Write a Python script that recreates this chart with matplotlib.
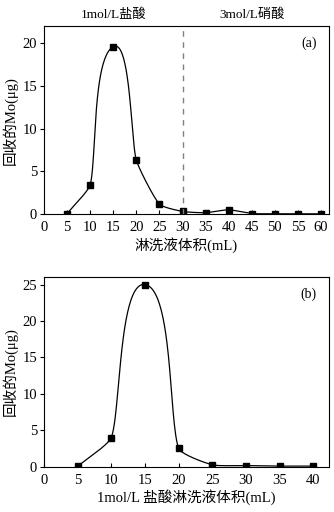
import matplotlib
matplotlib.use('Agg')
import matplotlib.pyplot as plt
import numpy as np

plt.rcParams['font.family'] = ['Liberation Serif', 'Noto Sans CJK SC']
plt.rcParams['font.size'] = 10
plt.rcParams['axes.unicode_minus'] = False

# (a) 盐酸 + 硝酸
xa = [5, 10, 15, 20, 25, 30, 35, 40, 45, 50, 55, 60]
ya = [0.05, 3.4, 19.6, 6.3, 1.15, 0.3, 0.15, 0.5, 0.05, 0.03, 0.02, 0.02]
xa_ticks = [0, 5, 10, 15, 20, 25, 30, 35, 40, 45, 50, 55, 60]

# (b) 盐酸
xb = [5, 10, 15, 20, 25, 30, 35, 40]
yb = [0.05, 4.0, 25.0, 2.5, 0.25, 0.15, 0.08, 0.08]
xb_ticks = [0, 5, 10, 15, 20, 25, 30, 35, 40]


def smooth(ax, x, y, k=0.17, n=50):
    # excel-like smoothed line, built in screen space
    P = ax.transData.transform(np.column_stack([x, y]))
    m = len(P)
    d = []
    for i in range(m):
        a = P[max(i - 1, 0)]
        b = P[min(i + 1, m - 1)]
        v = b - a
        d.append(v / np.hypot(*v))
    t = np.linspace(0, 1, n)[:, None]
    pts = []
    for i in range(m - 1):
        p0, p3 = P[i], P[i + 1]
        L = np.hypot(*(p3 - p0))
        p1 = p0 + d[i] * L * k
        p2 = p3 - d[i + 1] * L * k
        b = (1 - t) ** 3 * p0 + 3 * (1 - t) ** 2 * t * p1 + 3 * (1 - t) * t ** 2 * p2 + t ** 3 * p3
        pts.append(b)
    pts = np.vstack(pts)
    out = ax.transData.inverted().transform(pts)
    return out[:, 0], out[:, 1]


fig = plt.figure(figsize=(3.34, 5.12), dpi=100)
ax1 = fig.add_axes([0.1317, 0.582, 0.853, 0.367])
ax2 = fig.add_axes([0.1317, 0.0885, 0.853, 0.370])

for ax, x, y, ticks, xmax, ymax, tag in [
        (ax1, xa, ya, xa_ticks, 61.7, 22, '(a)'),
        (ax2, xb, yb, xb_ticks, 42.3, 26, '(b)')]:
    ax.set_xlim(0, xmax)
    ax.set_ylim(0, ymax)
    sx, sy = smooth(ax, x, y)
    ax.plot(sx, sy, color='black', lw=0.9)
    ax.plot(x, y, 's', color='black', ms=4.2)
    ax.set_xticks(ticks)
    ax.set_yticks(np.arange(0, ymax, 5))
    ax.tick_params(axis='both', labelsize=10.5)
    ax.tick_params(axis='x', direction='in', length=3, width=0.8, pad=5)
    ax.tick_params(axis='y', direction='out', length=3, width=0.8, pad=2)
    for s in ax.spines.values():
        s.set_linewidth(0.8)
    ax.set_ylabel('回收的Mo(μg)', fontsize=10.5, labelpad=3)
    ax.text(0.958, 0.947, tag, transform=ax.transAxes, ha='right', va='top', fontsize=10)

ax1.axvline(30, color='gray', ls=(0, (4, 4)), lw=1)
ax1.text(15, 22.6, '1mol/L盐酸', ha='center', va='bottom', fontsize=9.5)
ax1.text(45, 22.6, '3mol/L硝酸', ha='center', va='bottom', fontsize=9.5)
ax1.set_xlabel('淋洗液体积(mL)', fontsize=10.5, labelpad=2)
ax2.set_xlabel('1mol/L 盐酸淋洗液体积(mL)', fontsize=10.5, labelpad=2)

fig.savefig('out.png', dpi=100)
